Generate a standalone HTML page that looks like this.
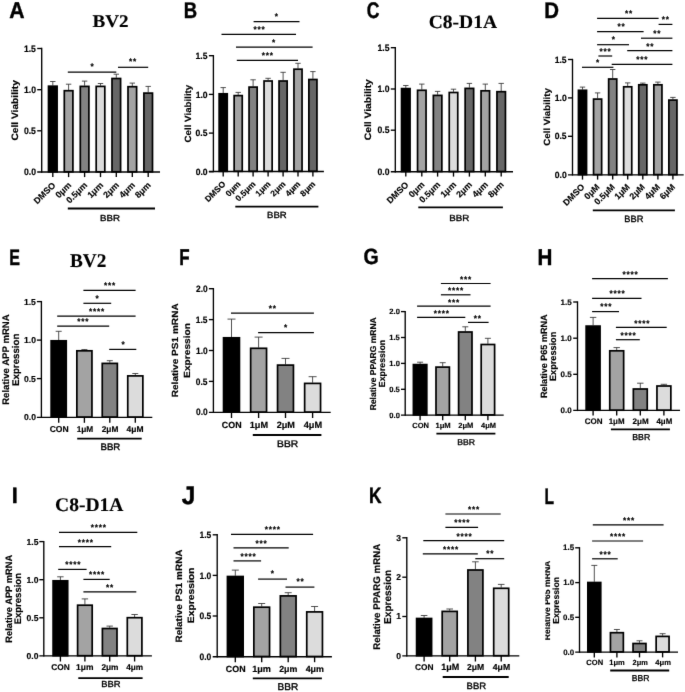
<!DOCTYPE html>
<html><head><meta charset="utf-8"><title>Figure</title>
<style>html,body{margin:0;padding:0;background:#fff}svg{display:block}text{text-rendering:geometricPrecision;stroke:#000;stroke-width:.38px;stroke-linejoin:round;vector-effect:non-scaling-stroke}text.r{stroke-width:.75px}text.s{stroke-width:.15px}</style></head>
<body><svg width="685" height="692" viewBox="0 0 685 692">
<defs><filter id="bl" x="0" y="0" width="685" height="692" filterUnits="userSpaceOnUse"><feConvolveMatrix color-interpolation-filters="sRGB" order="3" kernelMatrix="0.0072 0.0847 0.0072 0.0847 1 0.0847 0.0072 0.0847 0.0072" edgeMode="duplicate" preserveAlpha="true"/></filter></defs>
<g filter="url(#bl)">
<rect width="685" height="692" fill="#fff"/>
<line x1="52.80" y1="85.50" x2="52.80" y2="81.50" stroke="#333" stroke-width="0.85"/>
<line x1="50.10" y1="81.50" x2="55.50" y2="81.50" stroke="#333" stroke-width="0.85"/>
<rect x="48.50" y="86.20" width="8.60" height="85.60" fill="#000000" stroke="#000" stroke-width="1.7"/>
<line x1="68.60" y1="90.00" x2="68.60" y2="84.20" stroke="#333" stroke-width="0.85"/>
<line x1="65.90" y1="84.20" x2="71.30" y2="84.20" stroke="#333" stroke-width="0.85"/>
<rect x="64.30" y="90.70" width="8.60" height="81.10" fill="#a3a3a3" stroke="#000" stroke-width="1.7"/>
<line x1="84.60" y1="85.70" x2="84.60" y2="81.10" stroke="#333" stroke-width="0.85"/>
<line x1="81.90" y1="81.10" x2="87.30" y2="81.10" stroke="#333" stroke-width="0.85"/>
<rect x="80.30" y="86.40" width="8.60" height="85.40" fill="#828282" stroke="#000" stroke-width="1.7"/>
<line x1="100.50" y1="85.70" x2="100.50" y2="83.50" stroke="#333" stroke-width="0.85"/>
<line x1="97.80" y1="83.50" x2="103.20" y2="83.50" stroke="#333" stroke-width="0.85"/>
<rect x="96.20" y="86.40" width="8.60" height="85.40" fill="#dcdcdc" stroke="#000" stroke-width="1.7"/>
<line x1="116.30" y1="77.80" x2="116.30" y2="74.20" stroke="#333" stroke-width="0.85"/>
<line x1="113.60" y1="74.20" x2="119.00" y2="74.20" stroke="#333" stroke-width="0.85"/>
<rect x="112.00" y="78.50" width="8.60" height="93.30" fill="#666666" stroke="#000" stroke-width="1.7"/>
<line x1="132.30" y1="86.00" x2="132.30" y2="83.10" stroke="#333" stroke-width="0.85"/>
<line x1="129.60" y1="83.10" x2="135.00" y2="83.10" stroke="#333" stroke-width="0.85"/>
<rect x="128.00" y="86.70" width="8.60" height="85.10" fill="#a3a3a3" stroke="#000" stroke-width="1.7"/>
<line x1="148.20" y1="92.40" x2="148.20" y2="86.40" stroke="#333" stroke-width="0.85"/>
<line x1="145.50" y1="86.40" x2="150.90" y2="86.40" stroke="#333" stroke-width="0.85"/>
<rect x="143.90" y="93.10" width="8.60" height="78.70" fill="#666666" stroke="#000" stroke-width="1.7"/>
<line x1="41.70" y1="47.83" x2="41.70" y2="172.68" stroke="#000" stroke-width="1.35"/>
<line x1="37.20" y1="172.00" x2="160.00" y2="172.00" stroke="#000" stroke-width="1.35"/>
<line x1="37.20" y1="48.50" x2="41.70" y2="48.50" stroke="#000" stroke-width="1.35"/>
<text transform="translate(23.88,51.65) scale(0.4300,0.4644)" font-size="20" font-weight="bold" font-family="&quot;Liberation Sans&quot;, Arial, sans-serif">1.5</text>
<line x1="37.20" y1="89.70" x2="41.70" y2="89.70" stroke="#000" stroke-width="1.35"/>
<text transform="translate(23.99,92.89) scale(0.4300,0.4644)" font-size="20" font-weight="bold" font-family="&quot;Liberation Sans&quot;, Arial, sans-serif">1.0</text>
<line x1="37.20" y1="130.80" x2="41.70" y2="130.80" stroke="#000" stroke-width="1.35"/>
<text transform="translate(23.88,133.99) scale(0.4300,0.4644)" font-size="20" font-weight="bold" font-family="&quot;Liberation Sans&quot;, Arial, sans-serif">0.5</text>
<text transform="translate(23.99,175.19) scale(0.4300,0.4644)" font-size="20" font-weight="bold" font-family="&quot;Liberation Sans&quot;, Arial, sans-serif">0.0</text>
<line x1="52.80" y1="172.00" x2="52.80" y2="177.10" stroke="#000" stroke-width="1.35"/>
<line x1="68.60" y1="172.00" x2="68.60" y2="177.10" stroke="#000" stroke-width="1.35"/>
<line x1="84.60" y1="172.00" x2="84.60" y2="177.10" stroke="#000" stroke-width="1.35"/>
<line x1="100.50" y1="172.00" x2="100.50" y2="177.10" stroke="#000" stroke-width="1.35"/>
<line x1="116.30" y1="172.00" x2="116.30" y2="177.10" stroke="#000" stroke-width="1.35"/>
<line x1="132.30" y1="172.00" x2="132.30" y2="177.10" stroke="#000" stroke-width="1.35"/>
<line x1="148.20" y1="172.00" x2="148.20" y2="177.10" stroke="#000" stroke-width="1.35"/>
<text transform="translate(56.00,185.80) rotate(-45) scale(0.4400)" text-anchor="end" font-size="20" font-weight="bold" font-family="&quot;Liberation Sans&quot;, Arial, sans-serif">DMSO</text>
<text transform="translate(71.80,185.80) rotate(-45) scale(0.4400)" text-anchor="end" font-size="20" font-weight="bold" font-family="&quot;Liberation Sans&quot;, Arial, sans-serif">0μm</text>
<text transform="translate(87.80,185.80) rotate(-45) scale(0.4400)" text-anchor="end" font-size="20" font-weight="bold" font-family="&quot;Liberation Sans&quot;, Arial, sans-serif">0.5μm</text>
<text transform="translate(103.70,185.80) rotate(-45) scale(0.4400)" text-anchor="end" font-size="20" font-weight="bold" font-family="&quot;Liberation Sans&quot;, Arial, sans-serif">1μm</text>
<text transform="translate(119.50,185.80) rotate(-45) scale(0.4400)" text-anchor="end" font-size="20" font-weight="bold" font-family="&quot;Liberation Sans&quot;, Arial, sans-serif">2μm</text>
<text transform="translate(135.50,185.80) rotate(-45) scale(0.4400)" text-anchor="end" font-size="20" font-weight="bold" font-family="&quot;Liberation Sans&quot;, Arial, sans-serif">4μm</text>
<text transform="translate(151.40,185.80) rotate(-45) scale(0.4400)" text-anchor="end" font-size="20" font-weight="bold" font-family="&quot;Liberation Sans&quot;, Arial, sans-serif">8μm</text>
<line x1="67.80" y1="208.50" x2="155.00" y2="208.50" stroke="#000" stroke-width="1.8"/>
<text class="r" transform="translate(100.00,220.90) scale(0.4851,0.4364)" font-size="20.0" font-weight="normal" font-family="&quot;Liberation Sans&quot;, Arial, sans-serif">BBR</text>
<line x1="67.80" y1="72.10" x2="116.30" y2="72.10" stroke="#000" stroke-width="1.2"/>
<text transform="translate(90.60,68.91) scale(0.4100)" font-size="20" letter-spacing="1.976" font-weight="bold" font-family="&quot;Liberation Sans&quot;, Arial, sans-serif">*</text>
<line x1="118.00" y1="67.30" x2="148.20" y2="67.30" stroke="#000" stroke-width="1.2"/>
<text transform="translate(129.10,64.41) scale(0.4100)" font-size="20" letter-spacing="1.976" font-weight="bold" font-family="&quot;Liberation Sans&quot;, Arial, sans-serif">**</text>
<text transform="translate(18.04,140.61) rotate(-90) scale(0.5108,0.4650)" font-size="20" font-weight="bold" font-family="&quot;Liberation Sans&quot;, Arial, sans-serif">Cell Viability</text>
<text transform="translate(9.27,18.10) scale(1.0597,1.1418)" font-size="20.0" font-weight="bold" font-family="&quot;Liberation Sans&quot;, Arial, sans-serif">A</text>
<text class="s" transform="translate(92.47,27.33) scale(0.9563,0.8930)" font-size="20.0" font-weight="bold" font-family="&quot;Liberation Serif&quot;, &quot;Times New Roman&quot;, serif">BV2</text>
<line x1="223.20" y1="93.10" x2="223.20" y2="87.60" stroke="#333" stroke-width="0.85"/>
<line x1="220.50" y1="87.60" x2="225.90" y2="87.60" stroke="#333" stroke-width="0.85"/>
<rect x="219.15" y="93.80" width="8.10" height="77.50" fill="#000000" stroke="#000" stroke-width="1.7"/>
<line x1="238.20" y1="94.90" x2="238.20" y2="92.40" stroke="#333" stroke-width="0.85"/>
<line x1="235.50" y1="92.40" x2="240.90" y2="92.40" stroke="#333" stroke-width="0.85"/>
<rect x="234.15" y="95.60" width="8.10" height="75.70" fill="#a3a3a3" stroke="#000" stroke-width="1.7"/>
<line x1="253.10" y1="86.40" x2="253.10" y2="79.80" stroke="#333" stroke-width="0.85"/>
<line x1="250.40" y1="79.80" x2="255.80" y2="79.80" stroke="#333" stroke-width="0.85"/>
<rect x="249.05" y="87.10" width="8.10" height="84.20" fill="#828282" stroke="#000" stroke-width="1.7"/>
<line x1="268.10" y1="80.30" x2="268.10" y2="78.30" stroke="#333" stroke-width="0.85"/>
<line x1="265.40" y1="78.30" x2="270.80" y2="78.30" stroke="#333" stroke-width="0.85"/>
<rect x="264.05" y="81.00" width="8.10" height="90.30" fill="#dcdcdc" stroke="#000" stroke-width="1.7"/>
<line x1="283.10" y1="80.30" x2="283.10" y2="72.30" stroke="#333" stroke-width="0.85"/>
<line x1="280.40" y1="72.30" x2="285.80" y2="72.30" stroke="#333" stroke-width="0.85"/>
<rect x="279.05" y="81.00" width="8.10" height="90.30" fill="#666666" stroke="#000" stroke-width="1.7"/>
<line x1="298.00" y1="68.50" x2="298.00" y2="63.30" stroke="#333" stroke-width="0.85"/>
<line x1="295.30" y1="63.30" x2="300.70" y2="63.30" stroke="#333" stroke-width="0.85"/>
<rect x="293.95" y="69.20" width="8.10" height="102.10" fill="#a3a3a3" stroke="#000" stroke-width="1.7"/>
<line x1="312.90" y1="78.80" x2="312.90" y2="71.60" stroke="#333" stroke-width="0.85"/>
<line x1="310.20" y1="71.60" x2="315.60" y2="71.60" stroke="#333" stroke-width="0.85"/>
<rect x="308.85" y="79.50" width="8.10" height="91.80" fill="#666666" stroke="#000" stroke-width="1.7"/>
<line x1="213.40" y1="55.03" x2="213.40" y2="172.18" stroke="#000" stroke-width="1.35"/>
<line x1="208.90" y1="171.50" x2="323.90" y2="171.50" stroke="#000" stroke-width="1.35"/>
<line x1="208.90" y1="55.70" x2="213.40" y2="55.70" stroke="#000" stroke-width="1.35"/>
<text transform="translate(195.58,58.76) scale(0.4300,0.4515)" font-size="20" font-weight="bold" font-family="&quot;Liberation Sans&quot;, Arial, sans-serif">1.5</text>
<line x1="208.90" y1="94.40" x2="213.40" y2="94.40" stroke="#000" stroke-width="1.35"/>
<text transform="translate(195.69,97.50) scale(0.4300,0.4515)" font-size="20" font-weight="bold" font-family="&quot;Liberation Sans&quot;, Arial, sans-serif">1.0</text>
<line x1="208.90" y1="133.10" x2="213.40" y2="133.10" stroke="#000" stroke-width="1.35"/>
<text transform="translate(195.58,136.20) scale(0.4300,0.4515)" font-size="20" font-weight="bold" font-family="&quot;Liberation Sans&quot;, Arial, sans-serif">0.5</text>
<line x1="208.90" y1="171.70" x2="213.40" y2="171.70" stroke="#000" stroke-width="1.35"/>
<text transform="translate(195.69,174.80) scale(0.4300,0.4515)" font-size="20" font-weight="bold" font-family="&quot;Liberation Sans&quot;, Arial, sans-serif">0.0</text>
<line x1="223.20" y1="171.50" x2="223.20" y2="176.60" stroke="#000" stroke-width="1.35"/>
<line x1="238.20" y1="171.50" x2="238.20" y2="176.60" stroke="#000" stroke-width="1.35"/>
<line x1="253.10" y1="171.50" x2="253.10" y2="176.60" stroke="#000" stroke-width="1.35"/>
<line x1="268.10" y1="171.50" x2="268.10" y2="176.60" stroke="#000" stroke-width="1.35"/>
<line x1="283.10" y1="171.50" x2="283.10" y2="176.60" stroke="#000" stroke-width="1.35"/>
<line x1="298.00" y1="171.50" x2="298.00" y2="176.60" stroke="#000" stroke-width="1.35"/>
<line x1="312.90" y1="171.50" x2="312.90" y2="176.60" stroke="#000" stroke-width="1.35"/>
<text transform="translate(226.10,184.70) rotate(-45) scale(0.4200)" text-anchor="end" font-size="20" font-weight="bold" font-family="&quot;Liberation Sans&quot;, Arial, sans-serif">DMSO</text>
<text transform="translate(241.10,184.70) rotate(-45) scale(0.4200)" text-anchor="end" font-size="20" font-weight="bold" font-family="&quot;Liberation Sans&quot;, Arial, sans-serif">0μm</text>
<text transform="translate(256.00,184.70) rotate(-45) scale(0.4200)" text-anchor="end" font-size="20" font-weight="bold" font-family="&quot;Liberation Sans&quot;, Arial, sans-serif">0.5μm</text>
<text transform="translate(271.00,184.70) rotate(-45) scale(0.4200)" text-anchor="end" font-size="20" font-weight="bold" font-family="&quot;Liberation Sans&quot;, Arial, sans-serif">1μm</text>
<text transform="translate(286.00,184.70) rotate(-45) scale(0.4200)" text-anchor="end" font-size="20" font-weight="bold" font-family="&quot;Liberation Sans&quot;, Arial, sans-serif">2μm</text>
<text transform="translate(300.90,184.70) rotate(-45) scale(0.4200)" text-anchor="end" font-size="20" font-weight="bold" font-family="&quot;Liberation Sans&quot;, Arial, sans-serif">4μm</text>
<text transform="translate(315.80,184.70) rotate(-45) scale(0.4200)" text-anchor="end" font-size="20" font-weight="bold" font-family="&quot;Liberation Sans&quot;, Arial, sans-serif">8μm</text>
<line x1="235.30" y1="206.60" x2="318.40" y2="206.60" stroke="#000" stroke-width="1.8"/>
<text class="r" transform="translate(267.11,218.10) scale(0.4773,0.4509)" font-size="20.0" font-weight="normal" font-family="&quot;Liberation Sans&quot;, Arial, sans-serif">BBR</text>
<line x1="253.60" y1="21.60" x2="299.50" y2="21.60" stroke="#000" stroke-width="1.2"/>
<text transform="translate(274.80,19.11) scale(0.4100)" font-size="20" letter-spacing="1.976" font-weight="bold" font-family="&quot;Liberation Sans&quot;, Arial, sans-serif">*</text>
<line x1="221.50" y1="34.40" x2="296.00" y2="34.40" stroke="#000" stroke-width="1.2"/>
<text transform="translate(253.50,31.71) scale(0.4100)" font-size="20" letter-spacing="1.976" font-weight="bold" font-family="&quot;Liberation Sans&quot;, Arial, sans-serif">***</text>
<line x1="236.00" y1="47.20" x2="312.60" y2="47.20" stroke="#000" stroke-width="1.2"/>
<text transform="translate(272.10,44.81) scale(0.4100)" font-size="20" letter-spacing="1.976" font-weight="bold" font-family="&quot;Liberation Sans&quot;, Arial, sans-serif">*</text>
<line x1="236.80" y1="60.30" x2="298.00" y2="60.30" stroke="#000" stroke-width="1.2"/>
<text transform="translate(261.80,57.81) scale(0.4100)" font-size="20" letter-spacing="1.976" font-weight="bold" font-family="&quot;Liberation Sans&quot;, Arial, sans-serif">***</text>
<text transform="translate(190.72,142.44) rotate(-90) scale(0.4866,0.4500)" font-size="20" font-weight="bold" font-family="&quot;Liberation Sans&quot;, Arial, sans-serif">Cell Viability</text>
<text transform="translate(183.85,18.20) scale(0.9262,1.1345)" font-size="20.0" font-weight="bold" font-family="&quot;Liberation Sans&quot;, Arial, sans-serif">B</text>
<line x1="405.80" y1="87.90" x2="405.80" y2="85.50" stroke="#333" stroke-width="0.85"/>
<line x1="403.10" y1="85.50" x2="408.50" y2="85.50" stroke="#333" stroke-width="0.85"/>
<rect x="401.55" y="88.60" width="8.50" height="82.90" fill="#000000" stroke="#000" stroke-width="1.7"/>
<line x1="421.80" y1="89.60" x2="421.80" y2="84.10" stroke="#333" stroke-width="0.85"/>
<line x1="419.10" y1="84.10" x2="424.50" y2="84.10" stroke="#333" stroke-width="0.85"/>
<rect x="417.55" y="90.30" width="8.50" height="81.20" fill="#a3a3a3" stroke="#000" stroke-width="1.7"/>
<line x1="437.60" y1="94.70" x2="437.60" y2="91.40" stroke="#333" stroke-width="0.85"/>
<line x1="434.90" y1="91.40" x2="440.30" y2="91.40" stroke="#333" stroke-width="0.85"/>
<rect x="433.35" y="95.40" width="8.50" height="76.10" fill="#828282" stroke="#000" stroke-width="1.7"/>
<line x1="453.50" y1="91.80" x2="453.50" y2="89.20" stroke="#333" stroke-width="0.85"/>
<line x1="450.80" y1="89.20" x2="456.20" y2="89.20" stroke="#333" stroke-width="0.85"/>
<rect x="449.25" y="92.50" width="8.50" height="79.00" fill="#dcdcdc" stroke="#000" stroke-width="1.7"/>
<line x1="469.40" y1="87.70" x2="469.40" y2="83.40" stroke="#333" stroke-width="0.85"/>
<line x1="466.70" y1="83.40" x2="472.10" y2="83.40" stroke="#333" stroke-width="0.85"/>
<rect x="465.15" y="88.40" width="8.50" height="83.10" fill="#666666" stroke="#000" stroke-width="1.7"/>
<line x1="485.30" y1="90.10" x2="485.30" y2="84.10" stroke="#333" stroke-width="0.85"/>
<line x1="482.60" y1="84.10" x2="488.00" y2="84.10" stroke="#333" stroke-width="0.85"/>
<rect x="481.05" y="90.80" width="8.50" height="80.70" fill="#a3a3a3" stroke="#000" stroke-width="1.7"/>
<line x1="501.20" y1="91.00" x2="501.20" y2="83.40" stroke="#333" stroke-width="0.85"/>
<line x1="498.50" y1="83.40" x2="503.90" y2="83.40" stroke="#333" stroke-width="0.85"/>
<rect x="496.95" y="91.70" width="8.50" height="79.80" fill="#666666" stroke="#000" stroke-width="1.7"/>
<line x1="395.30" y1="47.03" x2="395.30" y2="172.38" stroke="#000" stroke-width="1.35"/>
<line x1="390.80" y1="171.70" x2="513.00" y2="171.70" stroke="#000" stroke-width="1.35"/>
<line x1="390.80" y1="47.70" x2="395.30" y2="47.70" stroke="#000" stroke-width="1.35"/>
<text transform="translate(377.48,50.85) scale(0.4300,0.4644)" font-size="20" font-weight="bold" font-family="&quot;Liberation Sans&quot;, Arial, sans-serif">1.5</text>
<line x1="390.80" y1="89.00" x2="395.30" y2="89.00" stroke="#000" stroke-width="1.35"/>
<text transform="translate(377.59,92.19) scale(0.4300,0.4644)" font-size="20" font-weight="bold" font-family="&quot;Liberation Sans&quot;, Arial, sans-serif">1.0</text>
<line x1="390.80" y1="130.20" x2="395.30" y2="130.20" stroke="#000" stroke-width="1.35"/>
<text transform="translate(377.48,133.39) scale(0.4300,0.4644)" font-size="20" font-weight="bold" font-family="&quot;Liberation Sans&quot;, Arial, sans-serif">0.5</text>
<text transform="translate(377.59,174.89) scale(0.4300,0.4644)" font-size="20" font-weight="bold" font-family="&quot;Liberation Sans&quot;, Arial, sans-serif">0.0</text>
<line x1="405.80" y1="171.70" x2="405.80" y2="176.60" stroke="#000" stroke-width="1.35"/>
<line x1="421.80" y1="171.70" x2="421.80" y2="176.60" stroke="#000" stroke-width="1.35"/>
<line x1="437.60" y1="171.70" x2="437.60" y2="176.60" stroke="#000" stroke-width="1.35"/>
<line x1="453.50" y1="171.70" x2="453.50" y2="176.60" stroke="#000" stroke-width="1.35"/>
<line x1="469.40" y1="171.70" x2="469.40" y2="176.60" stroke="#000" stroke-width="1.35"/>
<line x1="485.30" y1="171.70" x2="485.30" y2="176.60" stroke="#000" stroke-width="1.35"/>
<line x1="501.20" y1="171.70" x2="501.20" y2="176.60" stroke="#000" stroke-width="1.35"/>
<text transform="translate(409.00,185.30) rotate(-45) scale(0.4400)" text-anchor="end" font-size="20" font-weight="bold" font-family="&quot;Liberation Sans&quot;, Arial, sans-serif">DMSO</text>
<text transform="translate(425.00,185.30) rotate(-45) scale(0.4400)" text-anchor="end" font-size="20" font-weight="bold" font-family="&quot;Liberation Sans&quot;, Arial, sans-serif">0μm</text>
<text transform="translate(440.80,185.30) rotate(-45) scale(0.4400)" text-anchor="end" font-size="20" font-weight="bold" font-family="&quot;Liberation Sans&quot;, Arial, sans-serif">0.5μm</text>
<text transform="translate(456.70,185.30) rotate(-45) scale(0.4400)" text-anchor="end" font-size="20" font-weight="bold" font-family="&quot;Liberation Sans&quot;, Arial, sans-serif">1μm</text>
<text transform="translate(472.60,185.30) rotate(-45) scale(0.4400)" text-anchor="end" font-size="20" font-weight="bold" font-family="&quot;Liberation Sans&quot;, Arial, sans-serif">2μm</text>
<text transform="translate(488.50,185.30) rotate(-45) scale(0.4400)" text-anchor="end" font-size="20" font-weight="bold" font-family="&quot;Liberation Sans&quot;, Arial, sans-serif">4μm</text>
<text transform="translate(504.40,185.30) rotate(-45) scale(0.4400)" text-anchor="end" font-size="20" font-weight="bold" font-family="&quot;Liberation Sans&quot;, Arial, sans-serif">8μm</text>
<line x1="418.30" y1="207.40" x2="502.90" y2="207.40" stroke="#000" stroke-width="1.8"/>
<text class="r" transform="translate(449.20,220.60) scale(0.4877,0.4436)" font-size="20.0" font-weight="normal" font-family="&quot;Liberation Sans&quot;, Arial, sans-serif">BBR</text>
<text transform="translate(371.14,140.31) rotate(-90) scale(0.5159,0.4650)" font-size="20" font-weight="bold" font-family="&quot;Liberation Sans&quot;, Arial, sans-serif">Cell Viability</text>
<text transform="translate(366.70,17.98) scale(0.8779,1.1237)" font-size="20.0" font-weight="bold" font-family="&quot;Liberation Sans&quot;, Arial, sans-serif">C</text>
<text class="s" transform="translate(428.72,27.71) scale(0.9775,0.9481)" font-size="20.0" font-weight="bold" font-family="&quot;Liberation Serif&quot;, &quot;Times New Roman&quot;, serif">C8-D1A</text>
<line x1="582.50" y1="89.60" x2="582.50" y2="87.10" stroke="#333" stroke-width="0.85"/>
<line x1="579.80" y1="87.10" x2="585.20" y2="87.10" stroke="#333" stroke-width="0.85"/>
<rect x="578.45" y="90.30" width="8.10" height="84.30" fill="#000000" stroke="#000" stroke-width="1.7"/>
<line x1="597.60" y1="98.40" x2="597.60" y2="92.90" stroke="#333" stroke-width="0.85"/>
<line x1="594.90" y1="92.90" x2="600.30" y2="92.90" stroke="#333" stroke-width="0.85"/>
<rect x="593.55" y="99.10" width="8.10" height="75.50" fill="#a3a3a3" stroke="#000" stroke-width="1.7"/>
<line x1="612.70" y1="78.30" x2="612.70" y2="69.50" stroke="#333" stroke-width="0.85"/>
<line x1="610.00" y1="69.50" x2="615.40" y2="69.50" stroke="#333" stroke-width="0.85"/>
<rect x="608.65" y="79.00" width="8.10" height="95.60" fill="#828282" stroke="#000" stroke-width="1.7"/>
<line x1="627.70" y1="86.10" x2="627.70" y2="82.90" stroke="#333" stroke-width="0.85"/>
<line x1="625.00" y1="82.90" x2="630.40" y2="82.90" stroke="#333" stroke-width="0.85"/>
<rect x="623.65" y="86.80" width="8.10" height="87.80" fill="#dcdcdc" stroke="#000" stroke-width="1.7"/>
<line x1="642.80" y1="84.10" x2="642.80" y2="83.10" stroke="#333" stroke-width="0.85"/>
<line x1="640.10" y1="83.10" x2="645.50" y2="83.10" stroke="#333" stroke-width="0.85"/>
<rect x="638.75" y="84.80" width="8.10" height="89.80" fill="#666666" stroke="#000" stroke-width="1.7"/>
<line x1="657.90" y1="84.10" x2="657.90" y2="82.10" stroke="#333" stroke-width="0.85"/>
<line x1="655.20" y1="82.10" x2="660.60" y2="82.10" stroke="#333" stroke-width="0.85"/>
<rect x="653.85" y="84.80" width="8.10" height="89.80" fill="#a3a3a3" stroke="#000" stroke-width="1.7"/>
<line x1="672.90" y1="99.40" x2="672.90" y2="97.40" stroke="#333" stroke-width="0.85"/>
<line x1="670.20" y1="97.40" x2="675.60" y2="97.40" stroke="#333" stroke-width="0.85"/>
<rect x="668.85" y="100.10" width="8.10" height="74.50" fill="#666666" stroke="#000" stroke-width="1.7"/>
<line x1="572.50" y1="58.83" x2="572.50" y2="175.48" stroke="#000" stroke-width="1.35"/>
<line x1="568.00" y1="174.80" x2="683.70" y2="174.80" stroke="#000" stroke-width="1.35"/>
<line x1="568.00" y1="59.50" x2="572.50" y2="59.50" stroke="#000" stroke-width="1.35"/>
<text transform="translate(554.68,62.56) scale(0.4300,0.4515)" font-size="20" font-weight="bold" font-family="&quot;Liberation Sans&quot;, Arial, sans-serif">1.5</text>
<line x1="568.00" y1="97.90" x2="572.50" y2="97.90" stroke="#000" stroke-width="1.35"/>
<text transform="translate(554.79,101.00) scale(0.4300,0.4515)" font-size="20" font-weight="bold" font-family="&quot;Liberation Sans&quot;, Arial, sans-serif">1.0</text>
<line x1="568.00" y1="136.30" x2="572.50" y2="136.30" stroke="#000" stroke-width="1.35"/>
<text transform="translate(554.68,139.40) scale(0.4300,0.4515)" font-size="20" font-weight="bold" font-family="&quot;Liberation Sans&quot;, Arial, sans-serif">0.5</text>
<text transform="translate(554.79,177.90) scale(0.4300,0.4515)" font-size="20" font-weight="bold" font-family="&quot;Liberation Sans&quot;, Arial, sans-serif">0.0</text>
<line x1="582.50" y1="174.80" x2="582.50" y2="179.60" stroke="#000" stroke-width="1.35"/>
<line x1="597.60" y1="174.80" x2="597.60" y2="179.60" stroke="#000" stroke-width="1.35"/>
<line x1="612.70" y1="174.80" x2="612.70" y2="179.60" stroke="#000" stroke-width="1.35"/>
<line x1="627.70" y1="174.80" x2="627.70" y2="179.60" stroke="#000" stroke-width="1.35"/>
<line x1="642.80" y1="174.80" x2="642.80" y2="179.60" stroke="#000" stroke-width="1.35"/>
<line x1="657.90" y1="174.80" x2="657.90" y2="179.60" stroke="#000" stroke-width="1.35"/>
<line x1="672.90" y1="174.80" x2="672.90" y2="179.60" stroke="#000" stroke-width="1.35"/>
<text transform="translate(585.20,187.50) rotate(-45) scale(0.4400)" text-anchor="end" font-size="20" font-weight="bold" font-family="&quot;Liberation Sans&quot;, Arial, sans-serif">DMSO</text>
<text transform="translate(600.30,187.50) rotate(-45) scale(0.4400)" text-anchor="end" font-size="20" font-weight="bold" font-family="&quot;Liberation Sans&quot;, Arial, sans-serif">0μM</text>
<text transform="translate(615.40,187.50) rotate(-45) scale(0.4400)" text-anchor="end" font-size="20" font-weight="bold" font-family="&quot;Liberation Sans&quot;, Arial, sans-serif">0.5μM</text>
<text transform="translate(630.40,187.50) rotate(-45) scale(0.4400)" text-anchor="end" font-size="20" font-weight="bold" font-family="&quot;Liberation Sans&quot;, Arial, sans-serif">1μM</text>
<text transform="translate(645.50,187.50) rotate(-45) scale(0.4400)" text-anchor="end" font-size="20" font-weight="bold" font-family="&quot;Liberation Sans&quot;, Arial, sans-serif">2μM</text>
<text transform="translate(660.60,187.50) rotate(-45) scale(0.4400)" text-anchor="end" font-size="20" font-weight="bold" font-family="&quot;Liberation Sans&quot;, Arial, sans-serif">4μM</text>
<text transform="translate(675.60,187.50) rotate(-45) scale(0.4400)" text-anchor="end" font-size="20" font-weight="bold" font-family="&quot;Liberation Sans&quot;, Arial, sans-serif">6μM</text>
<line x1="592.80" y1="210.40" x2="674.90" y2="210.40" stroke="#000" stroke-width="1.8"/>
<text class="r" transform="translate(624.34,221.60) scale(0.4617,0.4655)" font-size="20.0" font-weight="normal" font-family="&quot;Liberation Sans&quot;, Arial, sans-serif">BBR</text>
<line x1="597.10" y1="18.30" x2="658.60" y2="18.30" stroke="#000" stroke-width="1.2"/>
<text transform="translate(624.90,16.11) scale(0.4100)" font-size="20" letter-spacing="1.976" font-weight="bold" font-family="&quot;Liberation Sans&quot;, Arial, sans-serif">**</text>
<line x1="658.60" y1="24.40" x2="672.40" y2="24.40" stroke="#000" stroke-width="1.2"/>
<text transform="translate(661.80,22.11) scale(0.4100)" font-size="20" letter-spacing="1.976" font-weight="bold" font-family="&quot;Liberation Sans&quot;, Arial, sans-serif">**</text>
<line x1="597.10" y1="31.60" x2="643.60" y2="31.60" stroke="#000" stroke-width="1.2"/>
<text transform="translate(617.40,29.11) scale(0.4100)" font-size="20" letter-spacing="1.976" font-weight="bold" font-family="&quot;Liberation Sans&quot;, Arial, sans-serif">**</text>
<line x1="641.00" y1="38.20" x2="672.40" y2="38.20" stroke="#000" stroke-width="1.2"/>
<text transform="translate(653.30,36.01) scale(0.4100)" font-size="20" letter-spacing="1.976" font-weight="bold" font-family="&quot;Liberation Sans&quot;, Arial, sans-serif">**</text>
<line x1="597.10" y1="44.70" x2="629.00" y2="44.70" stroke="#000" stroke-width="1.2"/>
<text transform="translate(611.80,42.31) scale(0.4100)" font-size="20" letter-spacing="1.976" font-weight="bold" font-family="&quot;Liberation Sans&quot;, Arial, sans-serif">*</text>
<line x1="627.20" y1="50.70" x2="672.40" y2="50.70" stroke="#000" stroke-width="1.2"/>
<text transform="translate(646.20,48.51) scale(0.4100)" font-size="20" letter-spacing="1.976" font-weight="bold" font-family="&quot;Liberation Sans&quot;, Arial, sans-serif">**</text>
<line x1="598.40" y1="56.00" x2="612.20" y2="56.00" stroke="#000" stroke-width="1.2"/>
<text transform="translate(599.50,53.61) scale(0.4100)" font-size="20" letter-spacing="1.976" font-weight="bold" font-family="&quot;Liberation Sans&quot;, Arial, sans-serif">***</text>
<line x1="611.70" y1="64.30" x2="672.40" y2="64.30" stroke="#000" stroke-width="1.2"/>
<text transform="translate(636.20,62.11) scale(0.4100)" font-size="20" letter-spacing="1.976" font-weight="bold" font-family="&quot;Liberation Sans&quot;, Arial, sans-serif">***</text>
<line x1="582.00" y1="67.30" x2="613.40" y2="67.30" stroke="#000" stroke-width="1.2"/>
<text transform="translate(596.00,65.11) scale(0.4100)" font-size="20" letter-spacing="1.976" font-weight="bold" font-family="&quot;Liberation Sans&quot;, Arial, sans-serif">*</text>
<text transform="translate(549.73,145.69) rotate(-90) scale(0.4862,0.4500)" font-size="20" font-weight="bold" font-family="&quot;Liberation Sans&quot;, Arial, sans-serif">Cell Viability</text>
<text transform="translate(544.22,18.20) scale(1.0204,1.1345)" font-size="20.0" font-weight="bold" font-family="&quot;Liberation Sans&quot;, Arial, sans-serif">D</text>
<line x1="58.70" y1="340.10" x2="58.70" y2="331.30" stroke="#333" stroke-width="0.85"/>
<line x1="55.70" y1="331.30" x2="61.70" y2="331.30" stroke="#333" stroke-width="0.85"/>
<rect x="51.15" y="340.80" width="15.10" height="76.30" fill="#000000" stroke="#000" stroke-width="1.7"/>
<line x1="84.40" y1="350.10" x2="84.40" y2="349.60" stroke="#333" stroke-width="0.85"/>
<line x1="81.40" y1="349.60" x2="87.40" y2="349.60" stroke="#333" stroke-width="0.85"/>
<rect x="76.85" y="350.80" width="15.10" height="66.30" fill="#a3a3a3" stroke="#000" stroke-width="1.7"/>
<line x1="109.80" y1="362.70" x2="109.80" y2="360.70" stroke="#333" stroke-width="0.85"/>
<line x1="106.80" y1="360.70" x2="112.80" y2="360.70" stroke="#333" stroke-width="0.85"/>
<rect x="102.25" y="363.40" width="15.10" height="53.70" fill="#828282" stroke="#000" stroke-width="1.7"/>
<line x1="135.30" y1="375.20" x2="135.30" y2="373.50" stroke="#333" stroke-width="0.85"/>
<line x1="132.30" y1="373.50" x2="138.30" y2="373.50" stroke="#333" stroke-width="0.85"/>
<rect x="127.75" y="375.90" width="15.10" height="41.20" fill="#dcdcdc" stroke="#000" stroke-width="1.7"/>
<line x1="41.40" y1="300.93" x2="41.40" y2="417.98" stroke="#000" stroke-width="1.35"/>
<line x1="36.90" y1="417.30" x2="152.30" y2="417.30" stroke="#000" stroke-width="1.35"/>
<line x1="36.90" y1="301.60" x2="41.40" y2="301.60" stroke="#000" stroke-width="1.35"/>
<text transform="translate(23.88,304.51) scale(0.4300,0.4300)" font-size="20" font-weight="bold" font-family="&quot;Liberation Sans&quot;, Arial, sans-serif">1.5</text>
<line x1="36.90" y1="340.10" x2="41.40" y2="340.10" stroke="#000" stroke-width="1.35"/>
<text transform="translate(23.99,343.06) scale(0.4300,0.4300)" font-size="20" font-weight="bold" font-family="&quot;Liberation Sans&quot;, Arial, sans-serif">1.0</text>
<line x1="36.90" y1="378.60" x2="41.40" y2="378.60" stroke="#000" stroke-width="1.35"/>
<text transform="translate(23.88,381.56) scale(0.4300,0.4300)" font-size="20" font-weight="bold" font-family="&quot;Liberation Sans&quot;, Arial, sans-serif">0.5</text>
<text transform="translate(23.99,420.26) scale(0.4300,0.4300)" font-size="20" font-weight="bold" font-family="&quot;Liberation Sans&quot;, Arial, sans-serif">0.0</text>
<line x1="58.70" y1="417.30" x2="58.70" y2="422.80" stroke="#000" stroke-width="1.35"/>
<line x1="84.40" y1="417.30" x2="84.40" y2="422.80" stroke="#000" stroke-width="1.35"/>
<line x1="109.80" y1="417.30" x2="109.80" y2="422.80" stroke="#000" stroke-width="1.35"/>
<line x1="135.30" y1="417.30" x2="135.30" y2="422.80" stroke="#000" stroke-width="1.35"/>
<text transform="translate(49.66,431.98) scale(0.4279)" font-size="20" font-weight="bold" font-family="&quot;Liberation Sans&quot;, Arial, sans-serif">CON</text>
<text transform="translate(76.68,431.85) scale(0.4144)" font-size="20" font-weight="bold" font-family="&quot;Liberation Sans&quot;, Arial, sans-serif">1μM</text>
<text transform="translate(101.71,431.90) scale(0.4163)" font-size="20" font-weight="bold" font-family="&quot;Liberation Sans&quot;, Arial, sans-serif">2μM</text>
<text transform="translate(126.47,431.92) scale(0.4250)" font-size="20" font-weight="bold" font-family="&quot;Liberation Sans&quot;, Arial, sans-serif">4μM</text>
<line x1="77.20" y1="438.70" x2="141.70" y2="438.70" stroke="#000" stroke-width="1.8"/>
<text class="r" transform="translate(100.50,449.80) scale(0.4825,0.4727)" font-size="20.0" font-weight="normal" font-family="&quot;Liberation Sans&quot;, Arial, sans-serif">BBR</text>
<line x1="83.40" y1="290.30" x2="135.60" y2="290.30" stroke="#000" stroke-width="1.2"/>
<text transform="translate(104.10,288.11) scale(0.4100)" font-size="20" letter-spacing="1.976" font-weight="bold" font-family="&quot;Liberation Sans&quot;, Arial, sans-serif">***</text>
<line x1="83.40" y1="303.30" x2="111.20" y2="303.30" stroke="#000" stroke-width="1.2"/>
<text transform="translate(95.60,300.91) scale(0.4100)" font-size="20" letter-spacing="1.976" font-weight="bold" font-family="&quot;Liberation Sans&quot;, Arial, sans-serif">*</text>
<line x1="57.20" y1="316.10" x2="135.60" y2="316.10" stroke="#000" stroke-width="1.2"/>
<text transform="translate(89.10,314.41) scale(0.4100)" font-size="20" letter-spacing="1.976" font-weight="bold" font-family="&quot;Liberation Sans&quot;, Arial, sans-serif">****</text>
<line x1="57.20" y1="326.20" x2="109.20" y2="326.20" stroke="#000" stroke-width="1.2"/>
<text transform="translate(77.30,324.01) scale(0.4100)" font-size="20" letter-spacing="1.976" font-weight="bold" font-family="&quot;Liberation Sans&quot;, Arial, sans-serif">***</text>
<line x1="109.20" y1="349.40" x2="136.30" y2="349.40" stroke="#000" stroke-width="1.2"/>
<text transform="translate(121.40,347.21) scale(0.4100)" font-size="20" letter-spacing="1.976" font-weight="bold" font-family="&quot;Liberation Sans&quot;, Arial, sans-serif">*</text>
<text transform="translate(9.45,404.85) rotate(-90) scale(0.4790,0.4790)" font-size="20" font-weight="bold" font-family="&quot;Liberation Sans&quot;, Arial, sans-serif">Relative APP mRNA</text>
<text transform="translate(19.34,385.96) rotate(-90) scale(0.4855,0.4855)" font-size="20" font-weight="bold" font-family="&quot;Liberation Sans&quot;, Arial, sans-serif">Expression</text>
<text transform="translate(9.32,265.00) scale(0.8036,1.1200)" font-size="20.0" font-weight="bold" font-family="&quot;Liberation Sans&quot;, Arial, sans-serif">E</text>
<text class="s" transform="translate(69.96,266.91) scale(0.9617,0.9668)" font-size="20.0" font-weight="bold" font-family="&quot;Liberation Serif&quot;, &quot;Times New Roman&quot;, serif">BV2</text>
<line x1="231.50" y1="337.10" x2="231.50" y2="319.10" stroke="#333" stroke-width="0.85"/>
<line x1="227.50" y1="319.10" x2="235.50" y2="319.10" stroke="#333" stroke-width="0.85"/>
<rect x="223.55" y="337.80" width="15.90" height="74.30" fill="#000000" stroke="#000" stroke-width="1.7"/>
<line x1="258.60" y1="347.60" x2="258.60" y2="337.10" stroke="#333" stroke-width="0.85"/>
<line x1="254.60" y1="337.10" x2="262.60" y2="337.10" stroke="#333" stroke-width="0.85"/>
<rect x="250.65" y="348.30" width="15.90" height="63.80" fill="#a3a3a3" stroke="#000" stroke-width="1.7"/>
<line x1="285.50" y1="364.40" x2="285.50" y2="358.40" stroke="#333" stroke-width="0.85"/>
<line x1="281.50" y1="358.40" x2="289.50" y2="358.40" stroke="#333" stroke-width="0.85"/>
<rect x="277.55" y="365.10" width="15.90" height="47.00" fill="#828282" stroke="#000" stroke-width="1.7"/>
<line x1="312.60" y1="382.70" x2="312.60" y2="376.70" stroke="#333" stroke-width="0.85"/>
<line x1="308.60" y1="376.70" x2="316.60" y2="376.70" stroke="#333" stroke-width="0.85"/>
<rect x="304.65" y="383.40" width="15.90" height="28.70" fill="#dcdcdc" stroke="#000" stroke-width="1.7"/>
<line x1="213.40" y1="288.02" x2="213.40" y2="412.98" stroke="#000" stroke-width="1.35"/>
<line x1="208.90" y1="412.30" x2="330.70" y2="412.30" stroke="#000" stroke-width="1.35"/>
<line x1="208.90" y1="288.70" x2="213.40" y2="288.70" stroke="#000" stroke-width="1.35"/>
<text transform="translate(195.96,291.88) scale(0.4200,0.4620)" font-size="20" font-weight="bold" font-family="&quot;Liberation Sans&quot;, Arial, sans-serif">2.0</text>
<line x1="208.90" y1="319.60" x2="213.40" y2="319.60" stroke="#000" stroke-width="1.35"/>
<text transform="translate(195.85,322.73) scale(0.4200,0.4620)" font-size="20" font-weight="bold" font-family="&quot;Liberation Sans&quot;, Arial, sans-serif">1.5</text>
<line x1="208.90" y1="350.50" x2="213.40" y2="350.50" stroke="#000" stroke-width="1.35"/>
<text transform="translate(195.96,353.68) scale(0.4200,0.4620)" font-size="20" font-weight="bold" font-family="&quot;Liberation Sans&quot;, Arial, sans-serif">1.0</text>
<line x1="208.90" y1="381.40" x2="213.40" y2="381.40" stroke="#000" stroke-width="1.35"/>
<text transform="translate(195.85,384.58) scale(0.4200,0.4620)" font-size="20" font-weight="bold" font-family="&quot;Liberation Sans&quot;, Arial, sans-serif">0.5</text>
<text transform="translate(195.96,415.48) scale(0.4200,0.4620)" font-size="20" font-weight="bold" font-family="&quot;Liberation Sans&quot;, Arial, sans-serif">0.0</text>
<line x1="231.50" y1="412.30" x2="231.50" y2="418.00" stroke="#000" stroke-width="1.35"/>
<line x1="258.60" y1="412.30" x2="258.60" y2="418.00" stroke="#000" stroke-width="1.35"/>
<line x1="285.50" y1="412.30" x2="285.50" y2="418.00" stroke="#000" stroke-width="1.35"/>
<line x1="312.60" y1="412.30" x2="312.60" y2="418.00" stroke="#000" stroke-width="1.35"/>
<text transform="translate(221.84,428.20) scale(0.4444)" font-size="20" font-weight="bold" font-family="&quot;Liberation Sans&quot;, Arial, sans-serif">CON</text>
<text transform="translate(249.73,428.24) scale(0.4572)" font-size="20" font-weight="bold" font-family="&quot;Liberation Sans&quot;, Arial, sans-serif">1μM</text>
<text transform="translate(276.68,428.28) scale(0.4559)" font-size="20" font-weight="bold" font-family="&quot;Liberation Sans&quot;, Arial, sans-serif">2μM</text>
<text transform="translate(303.66,428.26) scale(0.4589)" font-size="20" font-weight="bold" font-family="&quot;Liberation Sans&quot;, Arial, sans-serif">4μM</text>
<line x1="252.80" y1="435.00" x2="321.40" y2="435.00" stroke="#000" stroke-width="1.8"/>
<text class="r" transform="translate(277.05,446.80) scale(0.5136,0.4800)" font-size="20.0" font-weight="normal" font-family="&quot;Liberation Sans&quot;, Arial, sans-serif">BBR</text>
<line x1="231.00" y1="313.10" x2="313.90" y2="313.10" stroke="#000" stroke-width="1.2"/>
<text transform="translate(268.80,310.71) scale(0.4100)" font-size="20" letter-spacing="1.976" font-weight="bold" font-family="&quot;Liberation Sans&quot;, Arial, sans-serif">**</text>
<line x1="258.10" y1="332.70" x2="313.90" y2="332.70" stroke="#000" stroke-width="1.2"/>
<text transform="translate(284.10,330.01) scale(0.4100)" font-size="20" letter-spacing="1.976" font-weight="bold" font-family="&quot;Liberation Sans&quot;, Arial, sans-serif">*</text>
<text transform="translate(178.15,397.28) rotate(-90) scale(0.5031,0.4450)" font-size="20" font-weight="bold" font-family="&quot;Liberation Sans&quot;, Arial, sans-serif">Relative PS1 mRNA</text>
<text transform="translate(190.15,377.89) rotate(-90) scale(0.5093,0.4450)" font-size="20" font-weight="bold" font-family="&quot;Liberation Sans&quot;, Arial, sans-serif">Expression</text>
<text transform="translate(179.26,264.60) scale(0.8473,1.1418)" font-size="20.0" font-weight="bold" font-family="&quot;Liberation Sans&quot;, Arial, sans-serif">F</text>
<line x1="420.10" y1="363.90" x2="420.10" y2="362.20" stroke="#333" stroke-width="0.85"/>
<line x1="417.10" y1="362.20" x2="423.10" y2="362.20" stroke="#333" stroke-width="0.85"/>
<rect x="413.40" y="364.60" width="13.40" height="50.30" fill="#000000" stroke="#000" stroke-width="1.7"/>
<line x1="442.70" y1="366.40" x2="442.70" y2="362.70" stroke="#333" stroke-width="0.85"/>
<line x1="439.70" y1="362.70" x2="445.70" y2="362.70" stroke="#333" stroke-width="0.85"/>
<rect x="436.00" y="367.10" width="13.40" height="47.80" fill="#a3a3a3" stroke="#000" stroke-width="1.7"/>
<line x1="465.30" y1="331.30" x2="465.30" y2="326.80" stroke="#333" stroke-width="0.85"/>
<line x1="462.30" y1="326.80" x2="468.30" y2="326.80" stroke="#333" stroke-width="0.85"/>
<rect x="458.60" y="332.00" width="13.40" height="82.90" fill="#828282" stroke="#000" stroke-width="1.7"/>
<line x1="487.90" y1="343.80" x2="487.90" y2="338.30" stroke="#333" stroke-width="0.85"/>
<line x1="484.90" y1="338.30" x2="490.90" y2="338.30" stroke="#333" stroke-width="0.85"/>
<rect x="481.20" y="344.50" width="13.40" height="70.40" fill="#dcdcdc" stroke="#000" stroke-width="1.7"/>
<line x1="405.20" y1="310.93" x2="405.20" y2="415.78" stroke="#000" stroke-width="1.35"/>
<line x1="401.00" y1="415.10" x2="503.70" y2="415.10" stroke="#000" stroke-width="1.35"/>
<line x1="401.00" y1="311.60" x2="405.20" y2="311.60" stroke="#000" stroke-width="1.35"/>
<text transform="translate(389.34,314.21) scale(0.3800,0.3800)" font-size="20" font-weight="bold" font-family="&quot;Liberation Sans&quot;, Arial, sans-serif">2.0</text>
<line x1="401.00" y1="337.50" x2="405.20" y2="337.50" stroke="#000" stroke-width="1.35"/>
<text transform="translate(389.25,340.07) scale(0.3800,0.3800)" font-size="20" font-weight="bold" font-family="&quot;Liberation Sans&quot;, Arial, sans-serif">1.5</text>
<line x1="401.00" y1="363.40" x2="405.20" y2="363.40" stroke="#000" stroke-width="1.35"/>
<text transform="translate(389.34,366.01) scale(0.3800,0.3800)" font-size="20" font-weight="bold" font-family="&quot;Liberation Sans&quot;, Arial, sans-serif">1.0</text>
<line x1="401.00" y1="389.30" x2="405.20" y2="389.30" stroke="#000" stroke-width="1.35"/>
<text transform="translate(389.25,391.91) scale(0.3800,0.3800)" font-size="20" font-weight="bold" font-family="&quot;Liberation Sans&quot;, Arial, sans-serif">0.5</text>
<text transform="translate(389.34,417.71) scale(0.3800,0.3800)" font-size="20" font-weight="bold" font-family="&quot;Liberation Sans&quot;, Arial, sans-serif">0.0</text>
<line x1="420.10" y1="415.10" x2="420.10" y2="420.30" stroke="#000" stroke-width="1.35"/>
<line x1="442.70" y1="415.10" x2="442.70" y2="420.30" stroke="#000" stroke-width="1.35"/>
<line x1="465.30" y1="415.10" x2="465.30" y2="420.30" stroke="#000" stroke-width="1.35"/>
<line x1="487.90" y1="415.10" x2="487.90" y2="420.30" stroke="#000" stroke-width="1.35"/>
<text transform="translate(412.20,428.32) scale(0.3759)" font-size="20" font-weight="bold" font-family="&quot;Liberation Sans&quot;, Arial, sans-serif">CON</text>
<text transform="translate(435.42,428.33) scale(0.3824)" font-size="20" font-weight="bold" font-family="&quot;Liberation Sans&quot;, Arial, sans-serif">1μM</text>
<text transform="translate(458.24,428.33) scale(0.3768)" font-size="20" font-weight="bold" font-family="&quot;Liberation Sans&quot;, Arial, sans-serif">2μM</text>
<text transform="translate(480.99,428.26) scale(0.3729)" font-size="20" font-weight="bold" font-family="&quot;Liberation Sans&quot;, Arial, sans-serif">4μM</text>
<line x1="436.40" y1="433.60" x2="495.40" y2="433.60" stroke="#000" stroke-width="1.8"/>
<text class="r" transform="translate(457.19,444.50) scale(0.4332,0.4218)" font-size="20.0" font-weight="normal" font-family="&quot;Liberation Sans&quot;, Arial, sans-serif">BBR</text>
<line x1="440.90" y1="283.50" x2="490.60" y2="283.50" stroke="#000" stroke-width="1.2"/>
<text transform="translate(459.90,281.81) scale(0.4100)" font-size="20" letter-spacing="1.976" font-weight="bold" font-family="&quot;Liberation Sans&quot;, Arial, sans-serif">***</text>
<line x1="440.90" y1="294.80" x2="470.50" y2="294.80" stroke="#000" stroke-width="1.2"/>
<text transform="translate(448.10,293.41) scale(0.4100)" font-size="20" letter-spacing="1.976" font-weight="bold" font-family="&quot;Liberation Sans&quot;, Arial, sans-serif">****</text>
<line x1="417.10" y1="306.10" x2="490.60" y2="306.10" stroke="#000" stroke-width="1.2"/>
<text transform="translate(448.10,304.71) scale(0.4100)" font-size="20" letter-spacing="1.976" font-weight="bold" font-family="&quot;Liberation Sans&quot;, Arial, sans-serif">***</text>
<line x1="417.10" y1="317.40" x2="465.30" y2="317.40" stroke="#000" stroke-width="1.2"/>
<text transform="translate(433.80,315.71) scale(0.4100)" font-size="20" letter-spacing="1.976" font-weight="bold" font-family="&quot;Liberation Sans&quot;, Arial, sans-serif">****</text>
<line x1="468.00" y1="322.40" x2="488.60" y2="322.40" stroke="#000" stroke-width="1.2"/>
<text transform="translate(473.70,321.21) scale(0.4100)" font-size="20" letter-spacing="1.976" font-weight="bold" font-family="&quot;Liberation Sans&quot;, Arial, sans-serif">**</text>
<text transform="translate(375.77,410.27) rotate(-90) scale(0.4255,0.4255)" font-size="20" font-weight="bold" font-family="&quot;Liberation Sans&quot;, Arial, sans-serif">Relative PPARG mRNA</text>
<text transform="translate(385.16,387.19) rotate(-90) scale(0.4390,0.4390)" font-size="20" font-weight="bold" font-family="&quot;Liberation Sans&quot;, Arial, sans-serif">Expression</text>
<text transform="translate(363.52,263.78) scale(0.9778,1.1025)" font-size="20.0" font-weight="bold" font-family="&quot;Liberation Sans&quot;, Arial, sans-serif">G</text>
<line x1="593.10" y1="325.40" x2="593.10" y2="317.40" stroke="#333" stroke-width="0.85"/>
<line x1="589.90" y1="317.40" x2="596.30" y2="317.40" stroke="#333" stroke-width="0.85"/>
<rect x="586.15" y="326.10" width="13.90" height="84.10" fill="#000000" stroke="#000" stroke-width="1.7"/>
<line x1="616.70" y1="350.10" x2="616.70" y2="347.60" stroke="#333" stroke-width="0.85"/>
<line x1="613.50" y1="347.60" x2="619.90" y2="347.60" stroke="#333" stroke-width="0.85"/>
<rect x="609.75" y="350.80" width="13.90" height="59.40" fill="#a3a3a3" stroke="#000" stroke-width="1.7"/>
<line x1="640.30" y1="388.30" x2="640.30" y2="383.20" stroke="#333" stroke-width="0.85"/>
<line x1="637.10" y1="383.20" x2="643.50" y2="383.20" stroke="#333" stroke-width="0.85"/>
<rect x="633.35" y="389.00" width="13.90" height="21.20" fill="#828282" stroke="#000" stroke-width="1.7"/>
<line x1="663.90" y1="385.30" x2="663.90" y2="384.30" stroke="#333" stroke-width="0.85"/>
<line x1="660.70" y1="384.30" x2="667.10" y2="384.30" stroke="#333" stroke-width="0.85"/>
<rect x="656.95" y="386.00" width="13.90" height="24.20" fill="#dcdcdc" stroke="#000" stroke-width="1.7"/>
<line x1="577.50" y1="301.32" x2="577.50" y2="411.07" stroke="#000" stroke-width="1.35"/>
<line x1="573.20" y1="410.40" x2="680.00" y2="410.40" stroke="#000" stroke-width="1.35"/>
<line x1="573.20" y1="302.00" x2="577.50" y2="302.00" stroke="#000" stroke-width="1.35"/>
<text transform="translate(560.50,304.71) scale(0.4000,0.4000)" font-size="20" font-weight="bold" font-family="&quot;Liberation Sans&quot;, Arial, sans-serif">1.5</text>
<line x1="573.20" y1="338.20" x2="577.50" y2="338.20" stroke="#000" stroke-width="1.35"/>
<text transform="translate(560.60,340.95) scale(0.4000,0.4000)" font-size="20" font-weight="bold" font-family="&quot;Liberation Sans&quot;, Arial, sans-serif">1.0</text>
<line x1="573.20" y1="374.30" x2="577.50" y2="374.30" stroke="#000" stroke-width="1.35"/>
<text transform="translate(560.50,377.05) scale(0.4000,0.4000)" font-size="20" font-weight="bold" font-family="&quot;Liberation Sans&quot;, Arial, sans-serif">0.5</text>
<text transform="translate(560.60,413.15) scale(0.4000,0.4000)" font-size="20" font-weight="bold" font-family="&quot;Liberation Sans&quot;, Arial, sans-serif">0.0</text>
<line x1="593.10" y1="410.40" x2="593.10" y2="415.50" stroke="#000" stroke-width="1.35"/>
<line x1="616.70" y1="410.40" x2="616.70" y2="415.50" stroke="#000" stroke-width="1.35"/>
<line x1="640.30" y1="410.40" x2="640.30" y2="415.50" stroke="#000" stroke-width="1.35"/>
<line x1="663.90" y1="410.40" x2="663.90" y2="415.50" stroke="#000" stroke-width="1.35"/>
<text transform="translate(584.78,423.90) scale(0.4019)" font-size="20" font-weight="bold" font-family="&quot;Liberation Sans&quot;, Arial, sans-serif">CON</text>
<text transform="translate(608.71,423.82) scale(0.3957)" font-size="20" font-weight="bold" font-family="&quot;Liberation Sans&quot;, Arial, sans-serif">1μM</text>
<text transform="translate(632.52,423.91) scale(0.4032)" font-size="20" font-weight="bold" font-family="&quot;Liberation Sans&quot;, Arial, sans-serif">2μM</text>
<text transform="translate(656.48,423.81) scale(0.3937)" font-size="20" font-weight="bold" font-family="&quot;Liberation Sans&quot;, Arial, sans-serif">4μM</text>
<line x1="610.90" y1="429.30" x2="669.90" y2="429.30" stroke="#000" stroke-width="1.8"/>
<text class="r" transform="translate(632.18,440.40) scale(0.4384,0.4291)" font-size="20.0" font-weight="normal" font-family="&quot;Liberation Sans&quot;, Arial, sans-serif">BBR</text>
<line x1="592.10" y1="278.70" x2="667.90" y2="278.70" stroke="#000" stroke-width="1.2"/>
<text transform="translate(622.60,276.81) scale(0.4100)" font-size="20" letter-spacing="1.976" font-weight="bold" font-family="&quot;Liberation Sans&quot;, Arial, sans-serif">****</text>
<line x1="592.10" y1="298.30" x2="641.50" y2="298.30" stroke="#000" stroke-width="1.2"/>
<text transform="translate(609.60,296.41) scale(0.4100)" font-size="20" letter-spacing="1.976" font-weight="bold" font-family="&quot;Liberation Sans&quot;, Arial, sans-serif">****</text>
<line x1="592.10" y1="311.60" x2="619.00" y2="311.60" stroke="#000" stroke-width="1.2"/>
<text transform="translate(600.30,309.41) scale(0.4100)" font-size="20" letter-spacing="1.976" font-weight="bold" font-family="&quot;Liberation Sans&quot;, Arial, sans-serif">***</text>
<line x1="615.90" y1="327.40" x2="666.70" y2="327.40" stroke="#000" stroke-width="1.2"/>
<text transform="translate(634.20,325.71) scale(0.4100)" font-size="20" letter-spacing="1.976" font-weight="bold" font-family="&quot;Liberation Sans&quot;, Arial, sans-serif">****</text>
<line x1="615.90" y1="339.70" x2="639.80" y2="339.70" stroke="#000" stroke-width="1.2"/>
<text transform="translate(620.40,337.81) scale(0.4100)" font-size="20" letter-spacing="1.976" font-weight="bold" font-family="&quot;Liberation Sans&quot;, Arial, sans-serif">****</text>
<text transform="translate(546.57,398.01) rotate(-90) scale(0.4533,0.4533)" font-size="20" font-weight="bold" font-family="&quot;Liberation Sans&quot;, Arial, sans-serif">Relative P65 mRNA</text>
<text transform="translate(556.23,381.02) rotate(-90) scale(0.4570,0.4570)" font-size="20" font-weight="bold" font-family="&quot;Liberation Sans&quot;, Arial, sans-serif">Expression</text>
<text transform="translate(537.61,265.00) scale(1.0298,1.1418)" font-size="20.0" font-weight="bold" font-family="&quot;Liberation Sans&quot;, Arial, sans-serif">H</text>
<line x1="60.40" y1="580.10" x2="60.40" y2="576.80" stroke="#333" stroke-width="0.85"/>
<line x1="57.20" y1="576.80" x2="63.60" y2="576.80" stroke="#333" stroke-width="0.85"/>
<rect x="53.10" y="580.80" width="14.60" height="74.90" fill="#000000" stroke="#000" stroke-width="1.7"/>
<line x1="84.90" y1="604.50" x2="84.90" y2="598.90" stroke="#333" stroke-width="0.85"/>
<line x1="81.70" y1="598.90" x2="88.10" y2="598.90" stroke="#333" stroke-width="0.85"/>
<rect x="77.60" y="605.20" width="14.60" height="50.50" fill="#a3a3a3" stroke="#000" stroke-width="1.7"/>
<line x1="109.70" y1="627.80" x2="109.70" y2="626.10" stroke="#333" stroke-width="0.85"/>
<line x1="106.50" y1="626.10" x2="112.90" y2="626.10" stroke="#333" stroke-width="0.85"/>
<rect x="102.40" y="628.50" width="14.60" height="27.20" fill="#828282" stroke="#000" stroke-width="1.7"/>
<line x1="134.60" y1="617.00" x2="134.60" y2="614.50" stroke="#333" stroke-width="0.85"/>
<line x1="131.40" y1="614.50" x2="137.80" y2="614.50" stroke="#333" stroke-width="0.85"/>
<rect x="127.30" y="617.70" width="14.60" height="38.00" fill="#dcdcdc" stroke="#000" stroke-width="1.7"/>
<line x1="43.80" y1="540.93" x2="43.80" y2="656.57" stroke="#000" stroke-width="1.35"/>
<line x1="39.30" y1="655.90" x2="151.90" y2="655.90" stroke="#000" stroke-width="1.35"/>
<line x1="39.30" y1="541.60" x2="43.80" y2="541.60" stroke="#000" stroke-width="1.35"/>
<text transform="translate(26.48,544.51) scale(0.4300,0.4300)" font-size="20" font-weight="bold" font-family="&quot;Liberation Sans&quot;, Arial, sans-serif">1.5</text>
<line x1="39.30" y1="579.70" x2="43.80" y2="579.70" stroke="#000" stroke-width="1.35"/>
<text transform="translate(26.59,582.66) scale(0.4300,0.4300)" font-size="20" font-weight="bold" font-family="&quot;Liberation Sans&quot;, Arial, sans-serif">1.0</text>
<line x1="39.30" y1="617.80" x2="43.80" y2="617.80" stroke="#000" stroke-width="1.35"/>
<text transform="translate(26.48,620.76) scale(0.4300,0.4300)" font-size="20" font-weight="bold" font-family="&quot;Liberation Sans&quot;, Arial, sans-serif">0.5</text>
<text transform="translate(26.59,658.86) scale(0.4300,0.4300)" font-size="20" font-weight="bold" font-family="&quot;Liberation Sans&quot;, Arial, sans-serif">0.0</text>
<line x1="60.40" y1="655.90" x2="60.40" y2="661.50" stroke="#000" stroke-width="1.35"/>
<line x1="84.90" y1="655.90" x2="84.90" y2="661.50" stroke="#000" stroke-width="1.35"/>
<line x1="109.70" y1="655.90" x2="109.70" y2="661.50" stroke="#000" stroke-width="1.35"/>
<line x1="134.60" y1="655.90" x2="134.60" y2="661.50" stroke="#000" stroke-width="1.35"/>
<text transform="translate(51.17,669.92) scale(0.4184)" font-size="20" font-weight="bold" font-family="&quot;Liberation Sans&quot;, Arial, sans-serif">CON</text>
<text transform="translate(76.07,669.90) scale(0.4217)" font-size="20" font-weight="bold" font-family="&quot;Liberation Sans&quot;, Arial, sans-serif">1μm</text>
<text transform="translate(101.41,669.90) scale(0.4158)" font-size="20" font-weight="bold" font-family="&quot;Liberation Sans&quot;, Arial, sans-serif">2μm</text>
<text transform="translate(126.18,669.83) scale(0.4116)" font-size="20" font-weight="bold" font-family="&quot;Liberation Sans&quot;, Arial, sans-serif">4μm</text>
<line x1="78.30" y1="678.10" x2="142.60" y2="678.10" stroke="#000" stroke-width="1.8"/>
<text class="r" transform="translate(101.33,687.30) scale(0.4695,0.4364)" font-size="20.0" font-weight="normal" font-family="&quot;Liberation Sans&quot;, Arial, sans-serif">BBR</text>
<line x1="59.00" y1="532.30" x2="137.30" y2="532.30" stroke="#000" stroke-width="1.2"/>
<text transform="translate(90.80,530.11) scale(0.4100)" font-size="20" letter-spacing="1.976" font-weight="bold" font-family="&quot;Liberation Sans&quot;, Arial, sans-serif">****</text>
<line x1="59.00" y1="546.60" x2="111.20" y2="546.60" stroke="#000" stroke-width="1.2"/>
<text transform="translate(77.80,544.91) scale(0.4100)" font-size="20" letter-spacing="1.976" font-weight="bold" font-family="&quot;Liberation Sans&quot;, Arial, sans-serif">****</text>
<line x1="58.20" y1="569.40" x2="86.60" y2="569.40" stroke="#000" stroke-width="1.2"/>
<text transform="translate(65.20,567.21) scale(0.4100)" font-size="20" letter-spacing="1.976" font-weight="bold" font-family="&quot;Liberation Sans&quot;, Arial, sans-serif">****</text>
<line x1="83.40" y1="579.40" x2="109.70" y2="579.40" stroke="#000" stroke-width="1.2"/>
<text transform="translate(89.10,577.21) scale(0.4100)" font-size="20" letter-spacing="1.976" font-weight="bold" font-family="&quot;Liberation Sans&quot;, Arial, sans-serif">****</text>
<line x1="83.40" y1="591.90" x2="136.30" y2="591.90" stroke="#000" stroke-width="1.2"/>
<text transform="translate(106.10,589.71) scale(0.4100)" font-size="20" letter-spacing="1.976" font-weight="bold" font-family="&quot;Liberation Sans&quot;, Arial, sans-serif">**</text>
<text transform="translate(11.64,642.73) rotate(-90) scale(0.4651,0.4651)" font-size="20" font-weight="bold" font-family="&quot;Liberation Sans&quot;, Arial, sans-serif">Relative APP mRNA</text>
<text transform="translate(21.20,624.34) rotate(-90) scale(0.4760,0.4760)" font-size="20" font-weight="bold" font-family="&quot;Liberation Sans&quot;, Arial, sans-serif">Expression</text>
<text transform="translate(11.63,503.40) scale(1.0877,1.1127)" font-size="20.0" font-weight="bold" font-family="&quot;Liberation Sans&quot;, Arial, sans-serif">I</text>
<text class="s" transform="translate(55.02,511.21) scale(0.9775,0.9630)" font-size="20.0" font-weight="bold" font-family="&quot;Liberation Serif&quot;, &quot;Times New Roman&quot;, serif">C8-D1A</text>
<line x1="235.30" y1="575.80" x2="235.30" y2="570.10" stroke="#333" stroke-width="0.85"/>
<line x1="231.80" y1="570.10" x2="238.80" y2="570.10" stroke="#333" stroke-width="0.85"/>
<rect x="227.45" y="576.50" width="15.70" height="80.00" fill="#000000" stroke="#000" stroke-width="1.7"/>
<line x1="261.70" y1="606.50" x2="261.70" y2="603.50" stroke="#333" stroke-width="0.85"/>
<line x1="258.20" y1="603.50" x2="265.20" y2="603.50" stroke="#333" stroke-width="0.85"/>
<rect x="253.85" y="607.20" width="15.70" height="49.30" fill="#a3a3a3" stroke="#000" stroke-width="1.7"/>
<line x1="288.20" y1="595.20" x2="288.20" y2="592.70" stroke="#333" stroke-width="0.85"/>
<line x1="284.70" y1="592.70" x2="291.70" y2="592.70" stroke="#333" stroke-width="0.85"/>
<rect x="280.35" y="595.90" width="15.70" height="60.60" fill="#828282" stroke="#000" stroke-width="1.7"/>
<line x1="314.60" y1="611.20" x2="314.60" y2="606.50" stroke="#333" stroke-width="0.85"/>
<line x1="311.10" y1="606.50" x2="318.10" y2="606.50" stroke="#333" stroke-width="0.85"/>
<rect x="306.75" y="611.90" width="15.70" height="44.60" fill="#dcdcdc" stroke="#000" stroke-width="1.7"/>
<line x1="217.20" y1="534.12" x2="217.20" y2="657.38" stroke="#000" stroke-width="1.35"/>
<line x1="212.70" y1="656.70" x2="331.90" y2="656.70" stroke="#000" stroke-width="1.35"/>
<line x1="212.70" y1="534.80" x2="217.20" y2="534.80" stroke="#000" stroke-width="1.35"/>
<text transform="translate(199.42,537.91) scale(0.4250,0.4590)" font-size="20" font-weight="bold" font-family="&quot;Liberation Sans&quot;, Arial, sans-serif">1.5</text>
<line x1="212.70" y1="575.40" x2="217.20" y2="575.40" stroke="#000" stroke-width="1.35"/>
<text transform="translate(199.53,578.56) scale(0.4250,0.4590)" font-size="20" font-weight="bold" font-family="&quot;Liberation Sans&quot;, Arial, sans-serif">1.0</text>
<line x1="212.70" y1="616.00" x2="217.20" y2="616.00" stroke="#000" stroke-width="1.35"/>
<text transform="translate(199.42,619.16) scale(0.4250,0.4590)" font-size="20" font-weight="bold" font-family="&quot;Liberation Sans&quot;, Arial, sans-serif">0.5</text>
<text transform="translate(199.53,659.86) scale(0.4250,0.4590)" font-size="20" font-weight="bold" font-family="&quot;Liberation Sans&quot;, Arial, sans-serif">0.0</text>
<line x1="235.30" y1="656.70" x2="235.30" y2="662.20" stroke="#000" stroke-width="1.35"/>
<line x1="261.70" y1="656.70" x2="261.70" y2="662.20" stroke="#000" stroke-width="1.35"/>
<line x1="288.20" y1="656.70" x2="288.20" y2="662.20" stroke="#000" stroke-width="1.35"/>
<line x1="314.60" y1="656.70" x2="314.60" y2="662.20" stroke="#000" stroke-width="1.35"/>
<text transform="translate(225.84,672.00) scale(0.4444)" font-size="20" font-weight="bold" font-family="&quot;Liberation Sans&quot;, Arial, sans-serif">CON</text>
<text transform="translate(252.23,672.03) scale(0.4554)" font-size="20" font-weight="bold" font-family="&quot;Liberation Sans&quot;, Arial, sans-serif">1μm</text>
<text transform="translate(279.19,671.98) scale(0.4413)" font-size="20" font-weight="bold" font-family="&quot;Liberation Sans&quot;, Arial, sans-serif">2μm</text>
<text transform="translate(305.67,671.96) scale(0.4444)" font-size="20" font-weight="bold" font-family="&quot;Liberation Sans&quot;, Arial, sans-serif">4μm</text>
<line x1="252.80" y1="678.40" x2="321.90" y2="678.40" stroke="#000" stroke-width="1.8"/>
<text class="r" transform="translate(277.47,690.00) scale(0.5032,0.4873)" font-size="20.0" font-weight="normal" font-family="&quot;Liberation Sans&quot;, Arial, sans-serif">BBR</text>
<line x1="231.00" y1="534.30" x2="313.10" y2="534.30" stroke="#000" stroke-width="1.2"/>
<text transform="translate(264.80,531.91) scale(0.4100)" font-size="20" letter-spacing="1.976" font-weight="bold" font-family="&quot;Liberation Sans&quot;, Arial, sans-serif">****</text>
<line x1="233.50" y1="547.90" x2="288.70" y2="547.90" stroke="#000" stroke-width="1.2"/>
<text transform="translate(255.50,545.71) scale(0.4100)" font-size="20" letter-spacing="1.976" font-weight="bold" font-family="&quot;Liberation Sans&quot;, Arial, sans-serif">***</text>
<line x1="233.50" y1="560.90" x2="261.10" y2="560.90" stroke="#000" stroke-width="1.2"/>
<text transform="translate(240.50,558.81) scale(0.4100)" font-size="20" letter-spacing="1.976" font-weight="bold" font-family="&quot;Liberation Sans&quot;, Arial, sans-serif">****</text>
<line x1="258.10" y1="579.10" x2="287.00" y2="579.10" stroke="#000" stroke-width="1.2"/>
<text transform="translate(270.80,576.21) scale(0.4100)" font-size="20" letter-spacing="1.976" font-weight="bold" font-family="&quot;Liberation Sans&quot;, Arial, sans-serif">*</text>
<line x1="285.50" y1="587.10" x2="314.40" y2="587.10" stroke="#000" stroke-width="1.2"/>
<text transform="translate(296.40,584.21) scale(0.4100)" font-size="20" letter-spacing="1.976" font-weight="bold" font-family="&quot;Liberation Sans&quot;, Arial, sans-serif">**</text>
<text transform="translate(182.47,642.47) rotate(-90) scale(0.4982,0.4600)" font-size="20" font-weight="bold" font-family="&quot;Liberation Sans&quot;, Arial, sans-serif">Relative PS1 mRNA</text>
<text transform="translate(194.27,623.20) rotate(-90) scale(0.5159,0.4600)" font-size="20" font-weight="bold" font-family="&quot;Liberation Sans&quot;, Arial, sans-serif">Expression</text>
<text transform="translate(181.83,504.35) scale(1.2169,1.2688)" font-size="20.0" font-weight="bold" font-family="&quot;Liberation Sans&quot;, Arial, sans-serif">J</text>
<line x1="424.10" y1="617.80" x2="424.10" y2="615.50" stroke="#333" stroke-width="0.85"/>
<line x1="420.80" y1="615.50" x2="427.40" y2="615.50" stroke="#333" stroke-width="0.85"/>
<rect x="416.60" y="618.50" width="15.00" height="37.20" fill="#000000" stroke="#000" stroke-width="1.7"/>
<line x1="449.70" y1="610.70" x2="449.70" y2="609.00" stroke="#333" stroke-width="0.85"/>
<line x1="446.40" y1="609.00" x2="453.00" y2="609.00" stroke="#333" stroke-width="0.85"/>
<rect x="442.20" y="611.40" width="15.00" height="44.30" fill="#a3a3a3" stroke="#000" stroke-width="1.7"/>
<line x1="475.40" y1="569.30" x2="475.40" y2="561.80" stroke="#333" stroke-width="0.85"/>
<line x1="472.10" y1="561.80" x2="478.70" y2="561.80" stroke="#333" stroke-width="0.85"/>
<rect x="467.90" y="570.00" width="15.00" height="85.70" fill="#828282" stroke="#000" stroke-width="1.7"/>
<line x1="501.20" y1="587.60" x2="501.20" y2="584.40" stroke="#333" stroke-width="0.85"/>
<line x1="497.90" y1="584.40" x2="504.50" y2="584.40" stroke="#333" stroke-width="0.85"/>
<rect x="493.70" y="588.30" width="15.00" height="67.40" fill="#dcdcdc" stroke="#000" stroke-width="1.7"/>
<line x1="406.80" y1="537.12" x2="406.80" y2="656.57" stroke="#000" stroke-width="1.35"/>
<line x1="402.30" y1="655.90" x2="519.30" y2="655.90" stroke="#000" stroke-width="1.35"/>
<line x1="402.30" y1="537.80" x2="406.80" y2="537.80" stroke="#000" stroke-width="1.35"/>
<text transform="translate(396.33,540.75) scale(0.4300,0.4300)" font-size="20" font-weight="bold" font-family="&quot;Liberation Sans&quot;, Arial, sans-serif">3</text>
<line x1="402.30" y1="577.20" x2="406.80" y2="577.20" stroke="#000" stroke-width="1.35"/>
<text transform="translate(396.37,580.20) scale(0.4300,0.4300)" font-size="20" font-weight="bold" font-family="&quot;Liberation Sans&quot;, Arial, sans-serif">2</text>
<line x1="402.30" y1="616.50" x2="406.80" y2="616.50" stroke="#000" stroke-width="1.35"/>
<text transform="translate(396.26,619.46) scale(0.4300,0.4300)" font-size="20" font-weight="bold" font-family="&quot;Liberation Sans&quot;, Arial, sans-serif">1</text>
<text transform="translate(396.37,658.86) scale(0.4300,0.4300)" font-size="20" font-weight="bold" font-family="&quot;Liberation Sans&quot;, Arial, sans-serif">0</text>
<line x1="424.10" y1="655.90" x2="424.10" y2="661.50" stroke="#000" stroke-width="1.35"/>
<line x1="449.70" y1="655.90" x2="449.70" y2="661.50" stroke="#000" stroke-width="1.35"/>
<line x1="475.40" y1="655.90" x2="475.40" y2="661.50" stroke="#000" stroke-width="1.35"/>
<line x1="501.20" y1="655.90" x2="501.20" y2="661.50" stroke="#000" stroke-width="1.35"/>
<text transform="translate(414.97,670.17) scale(0.4184)" font-size="20" font-weight="bold" font-family="&quot;Liberation Sans&quot;, Arial, sans-serif">CON</text>
<text transform="translate(441.14,670.34) scale(0.4492)" font-size="20" font-weight="bold" font-family="&quot;Liberation Sans&quot;, Arial, sans-serif">1μM</text>
<text transform="translate(467.00,670.25) scale(0.4295)" font-size="20" font-weight="bold" font-family="&quot;Liberation Sans&quot;, Arial, sans-serif">2μM</text>
<text transform="translate(492.77,670.23) scale(0.4329)" font-size="20" font-weight="bold" font-family="&quot;Liberation Sans&quot;, Arial, sans-serif">4μM</text>
<line x1="442.70" y1="677.00" x2="508.70" y2="677.00" stroke="#000" stroke-width="1.8"/>
<text class="r" transform="translate(466.61,688.50) scale(0.4773,0.4655)" font-size="20.0" font-weight="normal" font-family="&quot;Liberation Sans&quot;, Arial, sans-serif">BBR</text>
<line x1="445.40" y1="514.00" x2="500.70" y2="514.00" stroke="#000" stroke-width="1.2"/>
<text transform="translate(468.00,511.81) scale(0.4100)" font-size="20" letter-spacing="1.976" font-weight="bold" font-family="&quot;Liberation Sans&quot;, Arial, sans-serif">***</text>
<line x1="445.40" y1="527.30" x2="478.10" y2="527.30" stroke="#000" stroke-width="1.2"/>
<text transform="translate(454.20,525.11) scale(0.4100)" font-size="20" letter-spacing="1.976" font-weight="bold" font-family="&quot;Liberation Sans&quot;, Arial, sans-serif">****</text>
<line x1="423.30" y1="540.60" x2="504.20" y2="540.60" stroke="#000" stroke-width="1.2"/>
<text transform="translate(456.40,538.71) scale(0.4100)" font-size="20" letter-spacing="1.976" font-weight="bold" font-family="&quot;Liberation Sans&quot;, Arial, sans-serif">****</text>
<line x1="422.80" y1="553.90" x2="477.80" y2="553.90" stroke="#000" stroke-width="1.2"/>
<text transform="translate(442.90,551.71) scale(0.4100)" font-size="20" letter-spacing="1.976" font-weight="bold" font-family="&quot;Liberation Sans&quot;, Arial, sans-serif">****</text>
<line x1="475.30" y1="558.70" x2="504.20" y2="558.70" stroke="#000" stroke-width="1.2"/>
<text transform="translate(486.30,556.21) scale(0.4100)" font-size="20" letter-spacing="1.976" font-weight="bold" font-family="&quot;Liberation Sans&quot;, Arial, sans-serif">**</text>
<text transform="translate(380.42,649.65) rotate(-90) scale(0.4841,0.4841)" font-size="20" font-weight="bold" font-family="&quot;Liberation Sans&quot;, Arial, sans-serif">Relative PPARG mRNA</text>
<text transform="translate(390.57,623.88) rotate(-90) scale(0.5017,0.5017)" font-size="20" font-weight="bold" font-family="&quot;Liberation Sans&quot;, Arial, sans-serif">Expression</text>
<text transform="translate(368.93,503.40) scale(0.8682,1.1127)" font-size="20.0" font-weight="bold" font-family="&quot;Liberation Sans&quot;, Arial, sans-serif">K</text>
<g transform="translate(0,0.4)">
<line x1="594.30" y1="581.40" x2="594.30" y2="565.00" stroke="#333" stroke-width="0.85"/>
<line x1="591.30" y1="565.00" x2="597.30" y2="565.00" stroke="#333" stroke-width="0.85"/>
<rect x="587.85" y="582.10" width="12.90" height="69.40" fill="#000000" stroke="#000" stroke-width="1.7"/>
<line x1="616.90" y1="631.60" x2="616.90" y2="629.10" stroke="#333" stroke-width="0.85"/>
<line x1="613.90" y1="629.10" x2="619.90" y2="629.10" stroke="#333" stroke-width="0.85"/>
<rect x="610.45" y="632.30" width="12.90" height="19.20" fill="#a3a3a3" stroke="#000" stroke-width="1.7"/>
<line x1="639.50" y1="642.40" x2="639.50" y2="640.40" stroke="#333" stroke-width="0.85"/>
<line x1="636.50" y1="640.40" x2="642.50" y2="640.40" stroke="#333" stroke-width="0.85"/>
<rect x="633.05" y="643.10" width="12.90" height="8.40" fill="#828282" stroke="#000" stroke-width="1.7"/>
<line x1="662.60" y1="635.30" x2="662.60" y2="633.30" stroke="#333" stroke-width="0.85"/>
<line x1="659.60" y1="633.30" x2="665.60" y2="633.30" stroke="#333" stroke-width="0.85"/>
<rect x="656.15" y="636.00" width="12.90" height="15.50" fill="#dcdcdc" stroke="#000" stroke-width="1.7"/>
<line x1="579.50" y1="546.73" x2="579.50" y2="652.38" stroke="#000" stroke-width="1.35"/>
<line x1="575.20" y1="651.70" x2="678.00" y2="651.70" stroke="#000" stroke-width="1.35"/>
<line x1="575.20" y1="547.40" x2="579.50" y2="547.40" stroke="#000" stroke-width="1.35"/>
<text transform="translate(563.04,550.08) scale(0.3950,0.3950)" font-size="20" font-weight="bold" font-family="&quot;Liberation Sans&quot;, Arial, sans-serif">1.5</text>
<line x1="575.20" y1="582.20" x2="579.50" y2="582.20" stroke="#000" stroke-width="1.35"/>
<text transform="translate(563.14,584.92) scale(0.3950,0.3950)" font-size="20" font-weight="bold" font-family="&quot;Liberation Sans&quot;, Arial, sans-serif">1.0</text>
<line x1="575.20" y1="616.90" x2="579.50" y2="616.90" stroke="#000" stroke-width="1.35"/>
<text transform="translate(563.04,619.62) scale(0.3950,0.3950)" font-size="20" font-weight="bold" font-family="&quot;Liberation Sans&quot;, Arial, sans-serif">0.5</text>
<text transform="translate(563.14,654.42) scale(0.3950,0.3950)" font-size="20" font-weight="bold" font-family="&quot;Liberation Sans&quot;, Arial, sans-serif">0.0</text>
<line x1="594.30" y1="651.70" x2="594.30" y2="657.00" stroke="#000" stroke-width="1.35"/>
<line x1="616.90" y1="651.70" x2="616.90" y2="657.00" stroke="#000" stroke-width="1.35"/>
<line x1="639.50" y1="651.70" x2="639.50" y2="657.00" stroke="#000" stroke-width="1.35"/>
<line x1="662.60" y1="651.70" x2="662.60" y2="657.00" stroke="#000" stroke-width="1.35"/>
<text transform="translate(586.30,664.99) scale(0.3783)" font-size="20" font-weight="bold" font-family="&quot;Liberation Sans&quot;, Arial, sans-serif">CON</text>
<text transform="translate(609.23,664.93) scale(0.3752)" font-size="20" font-weight="bold" font-family="&quot;Liberation Sans&quot;, Arial, sans-serif">1μm</text>
<text transform="translate(632.54,664.93) scale(0.3699)" font-size="20" font-weight="bold" font-family="&quot;Liberation Sans&quot;, Arial, sans-serif">2μm</text>
<text transform="translate(655.29,664.95) scale(0.3788)" font-size="20" font-weight="bold" font-family="&quot;Liberation Sans&quot;, Arial, sans-serif">4μm</text>
<line x1="610.20" y1="670.10" x2="669.20" y2="670.10" stroke="#000" stroke-width="1.8"/>
<text class="r" transform="translate(631.69,681.00) scale(0.4306,0.4291)" font-size="20.0" font-weight="normal" font-family="&quot;Liberation Sans&quot;, Arial, sans-serif">BBR</text>
<line x1="592.80" y1="524.50" x2="663.60" y2="524.50" stroke="#000" stroke-width="1.2"/>
<text transform="translate(622.90,522.61) scale(0.4100)" font-size="20" letter-spacing="1.976" font-weight="bold" font-family="&quot;Liberation Sans&quot;, Arial, sans-serif">***</text>
<line x1="592.10" y1="540.60" x2="643.10" y2="540.60" stroke="#000" stroke-width="1.2"/>
<text transform="translate(610.10,538.71) scale(0.4100)" font-size="20" letter-spacing="1.976" font-weight="bold" font-family="&quot;Liberation Sans&quot;, Arial, sans-serif">****</text>
<line x1="592.10" y1="558.40" x2="617.70" y2="558.40" stroke="#000" stroke-width="1.2"/>
<text transform="translate(599.50,556.51) scale(0.4100)" font-size="20" letter-spacing="1.976" font-weight="bold" font-family="&quot;Liberation Sans&quot;, Arial, sans-serif">***</text>
<text transform="translate(559.10,623.29) rotate(-90) scale(0.4342,0.4342)" font-size="20" font-weight="bold" font-family="&quot;Liberation Sans&quot;, Arial, sans-serif">Expression</text>
<text transform="translate(544.55,503.20) scale(0.7805,1.1345)" font-size="20.0" font-weight="bold" font-family="&quot;Liberation Sans&quot;, Arial, sans-serif">L</text>
<clipPath id="cl"><rect x="545.3" y="540" width="20" height="120"/></clipPath><g clip-path="url(#cl)">
<text transform="translate(549.65,639.78) rotate(-90) scale(0.4309,0.4309)" font-size="20" font-weight="bold" font-family="&quot;Liberation Sans&quot;, Arial, sans-serif">Relative P65 mRNA</text>
</g></g>
</g></svg></body></html>
